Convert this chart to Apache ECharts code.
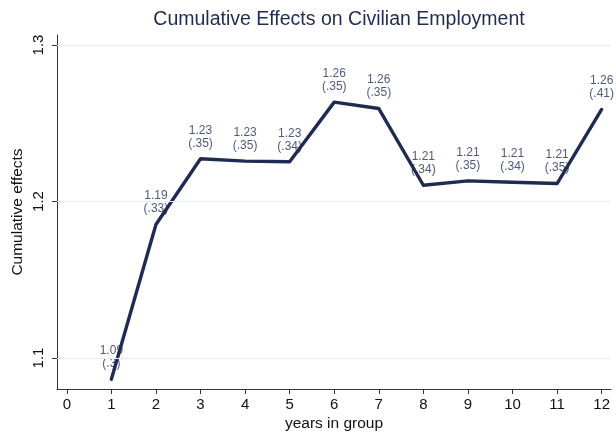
<!DOCTYPE html>
<html>
<head>
<meta charset="utf-8">
<script src="https://cdn.jsdelivr.net/npm/echarts@6/dist/echarts.min.js"></script>
<style>
  html, body { margin: 0; padding: 0; background: #fff; }
  #chart { width: 616px; height: 438px; }
</style>
</head>
<body>
<div id="chart"></div>
<script>
// Years in group and the estimated cumulative effects with their standard errors
const years = [1, 2, 3, 4, 5, 6, 7, 8, 9, 10, 11, 12];
const effects = [1.0864, 1.1853, 1.2273, 1.2258, 1.2254, 1.2635, 1.2594, 1.2104, 1.2132, 1.2123, 1.2115, 1.2588];
const effectLabels = ['1.09', '1.19', '1.23', '1.23', '1.23', '1.26', '1.26', '1.21', '1.21', '1.21', '1.21', '1.26'];
const seLabels = ['(.3)', '(.33)', '(.35)', '(.35)', '(.34)', '(.35)', '(.35)', '(.34)', '(.35)', '(.34)', '(.35)', '(.41)'];
const xTicks = [0, 1, 2, 3, 4, 5, 6, 7, 8, 9, 10, 11, 12];
const yTicks = [1.1, 1.2, 1.3];

const navy = '#1f2b52';
const labelNavy = '#22305a';
const font = '"Liberation Sans", Arial, sans-serif';

const points = years.map((y, i) => [y, effects[i]]);

const chart = echarts.init(document.getElementById('chart'), null, { renderer: 'canvas' });
chart.setOption({
  animation: false,
  backgroundColor: '#fff',
  title: {
    text: 'Cumulative Effects on Civilian Employment',
    left: 334, top: 5, textAlign: 'center',
    textStyle: { fontFamily: font, fontSize: 19.5, fontWeight: 'normal', color: '#1f2b52' }
  },
  grid: { left: 57, right: 5, top: 35, bottom: 49, outerBoundsMode: 'none', containLabel: false },
  xAxis: {
    type: 'value', min: -0.22, max: 12.21,
    name: 'years in group', nameLocation: 'middle', nameGap: 27, nameMoveOverlap: false,
    nameTextStyle: { fontFamily: font, fontSize: 15.5, color: '#111' },
    axisLine: { show: true, onZero: false, lineStyle: { color: '#333', width: 1 } },
    axisTick: { show: true, length: 5, customValues: xTicks, lineStyle: { color: '#333' } },
    axisLabel: { customValues: xTicks, margin: 8, fontFamily: font, fontSize: 15, color: '#111' },
    splitLine: { show: false }
  },
  yAxis: {
    type: 'value', min: 1.0802, max: 1.3064,
    name: 'Cumulative effects', nameLocation: 'middle', nameGap: 31, nameRotate: 90, nameMoveOverlap: false,
    nameTextStyle: { fontFamily: font, fontSize: 15.5, color: '#111' },
    axisLine: { show: true, onZero: false, lineStyle: { color: '#333', width: 1 } },
    axisTick: { show: true, length: 5, customValues: yTicks, lineStyle: { color: '#333' } },
    axisLabel: {
      customValues: yTicks, rotate: 90, margin: 11,
      fontFamily: font, fontSize: 15, color: '#111',
      formatter: v => v.toFixed(1)
    },
    splitLine: { show: false }
  },
  series: [
    {
      // horizontal reference lines at the labelled y ticks
      type: 'line', data: [], z: 0,
      markLine: {
        silent: true, symbol: 'none', animation: false,
        label: { show: false },
        lineStyle: { color: '#e4eeee', width: 1, type: 'solid' },
        data: yTicks.map(v => ({ yAxis: v }))
      }
    },
    {
      // value labels, drawn beneath the line
      type: 'scatter', data: points, symbolSize: 0, z: 1,
      label: {
        show: true, position: 'top', distance: 9,
        fontFamily: font, fontSize: 12, lineHeight: 13, color: labelNavy,
        formatter: p => effectLabels[p.dataIndex] + '\n' + seLabels[p.dataIndex]
      }
    },
    {
      type: 'line', data: points, z: 3,
      symbol: 'none',
      lineStyle: { color: navy, width: 3.4, join: 'round', cap: 'round' }
    }
  ]
});
</script>
</body>
</html>
